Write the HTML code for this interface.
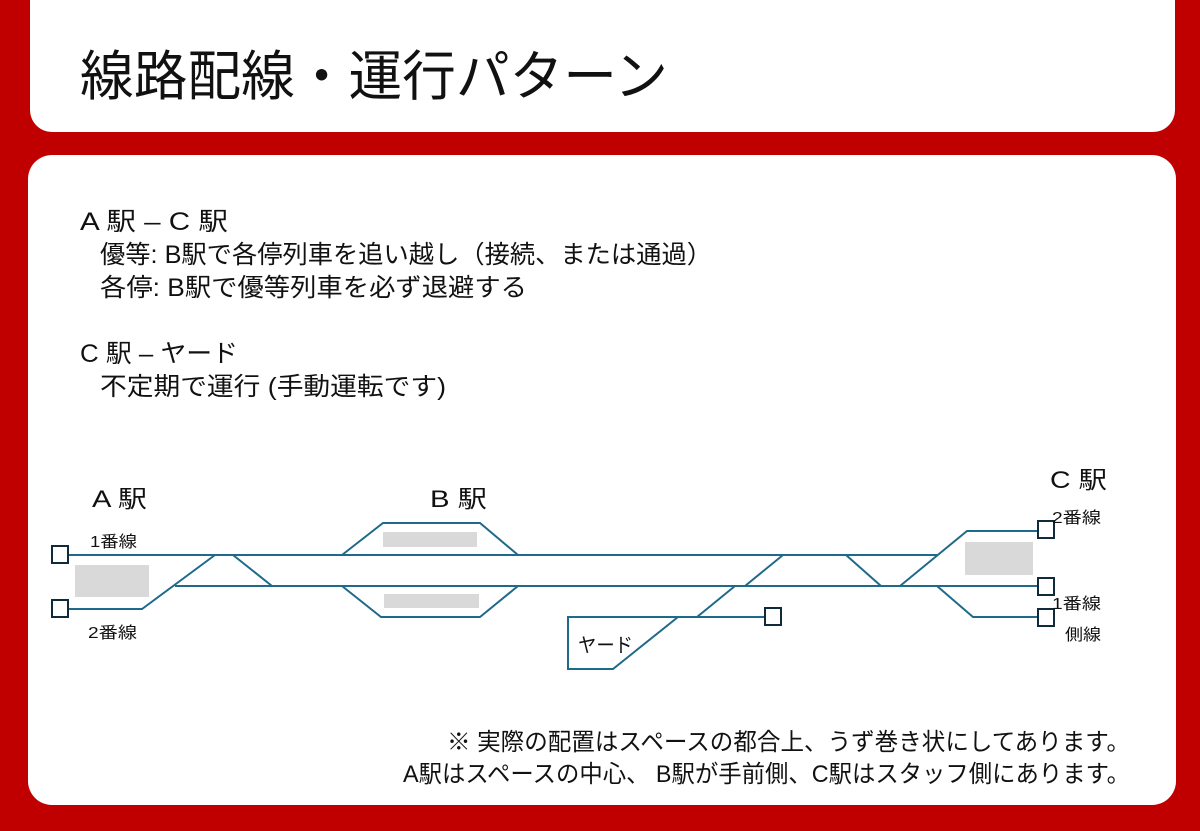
<!DOCTYPE html>
<html><head><meta charset="utf-8"><style>
html,body{margin:0;padding:0;background:#c00000;}
svg{display:block;}
text{font-family:"Liberation Sans","Noto Sans CJK JP",sans-serif;fill:#111;}
</style></head><body>
<svg width="1200" height="831" viewBox="0 0 1200 831" xmlns="http://www.w3.org/2000/svg">
<rect width="1200" height="831" fill="#c00000"/>
<rect x="30" y="-30" width="1145" height="162" rx="22" fill="#fff"/>
<rect x="28" y="155" width="1148" height="650" rx="24" fill="#fff"/>
<text x="80" y="95" font-size="54" textLength="588" lengthAdjust="spacingAndGlyphs">線路配線・運行パターン</text>
<text x="80" y="230" font-size="25" textLength="148" lengthAdjust="spacingAndGlyphs">A 駅 – C 駅</text>
<text x="100" y="263" font-size="25" textLength="612" lengthAdjust="spacingAndGlyphs">優等: B駅で各停列車を追い越し（接続、または通過）</text>
<text x="100" y="296" font-size="25" textLength="427" lengthAdjust="spacingAndGlyphs">各停: B駅で優等列車を必ず退避する</text>
<text x="80" y="362" font-size="25" textLength="158" lengthAdjust="spacingAndGlyphs">C 駅 – ヤード</text>
<text x="100" y="395" font-size="25" textLength="346" lengthAdjust="spacingAndGlyphs">不定期で運行 (手動運転です)</text>

<g fill="#d9d9d9">
<rect x="75" y="565" width="74" height="32"/>
<rect x="383" y="532" width="94" height="15"/>
<rect x="384" y="594" width="95" height="14"/>
<rect x="965" y="542" width="68" height="33"/>
</g>
<g fill="none" stroke="#1f6a8a" stroke-width="2">
<path d="M68 555H937"/>
<path d="M175 586H1038"/>
<path d="M68 609H142L215 555"/>
<path d="M233 555L272 586"/>
<path d="M342 555L383 523H480L518 555"/>
<path d="M342 586L381 617H480L518 586"/>
<path d="M745 586L783 555"/>
<path d="M846 555L881 586"/>
<path d="M900 586L967 531H1038"/>
<path d="M937 586L973 617H1038"/>
<path d="M765 617H568V669H613L678 617"/>
<path d="M697 617L735 586"/>
</g>
<g fill="#fff" stroke="#0f2a3a" stroke-width="2">
<rect x="52" y="546" width="16" height="17"/>
<rect x="52" y="600" width="16" height="17"/>
<rect x="765" y="608" width="16" height="17"/>
<rect x="1038" y="521" width="16" height="17"/>
<rect x="1038" y="578" width="16" height="17"/>
<rect x="1038" y="609" width="16" height="17"/>
</g>
<text x="92" y="507" font-size="24" textLength="55" lengthAdjust="spacingAndGlyphs">A 駅</text>
<text x="430" y="507" font-size="24" textLength="57" lengthAdjust="spacingAndGlyphs">B 駅</text>
<text x="1050" y="488" font-size="24" textLength="57" lengthAdjust="spacingAndGlyphs">C 駅</text>
<text x="90" y="547" font-size="16" textLength="47" lengthAdjust="spacingAndGlyphs">1番線</text>
<text x="88" y="638" font-size="16" textLength="49" lengthAdjust="spacingAndGlyphs">2番線</text>
<text x="1052" y="523" font-size="16" textLength="49" lengthAdjust="spacingAndGlyphs">2番線</text>
<text x="1052" y="609" font-size="16" textLength="49" lengthAdjust="spacingAndGlyphs">1番線</text>
<text x="1065" y="640" font-size="16" textLength="36" lengthAdjust="spacingAndGlyphs">側線</text>
<text x="578" y="652" font-size="20" textLength="55" lengthAdjust="spacingAndGlyphs">ヤード</text>

<text x="447" y="750" font-size="24" textLength="683" lengthAdjust="spacingAndGlyphs">※ 実際の配置はスペースの都合上、うず巻き状にしてあります。</text>
<text x="403" y="782" font-size="24" textLength="727" lengthAdjust="spacingAndGlyphs">A駅はスペースの中心、 B駅が手前側、C駅はスタッフ側にあります。</text>
</svg>
</body></html>
